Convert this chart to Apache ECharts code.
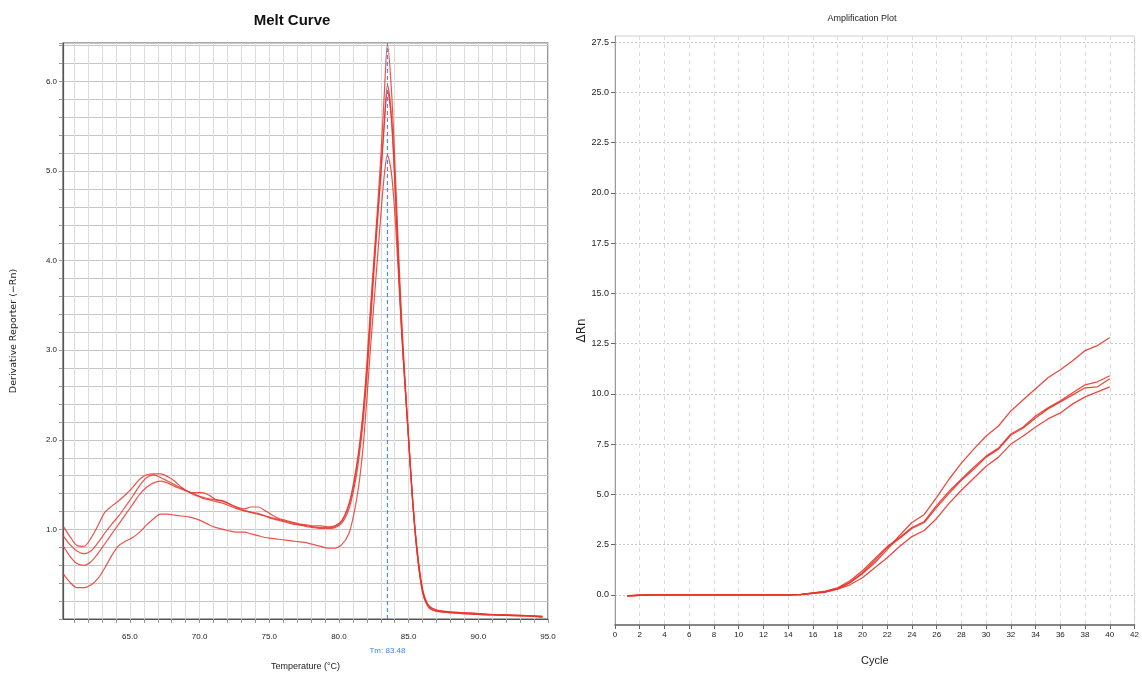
<!DOCTYPE html>
<html><head><meta charset="utf-8">
<script src="https://cdn.jsdelivr.net/npm/echarts@6/dist/echarts.min.js"></script>
<style>html,body{margin:0;padding:0;background:#fff}#c{width:1142px;height:679px}</style>
</head><body><div id="c"></div>
<script>
// ---------- Melt curve data ----------
const meltTemps = [
  60.2, 60.7, 61.2, 61.7, 62.2, 62.7, 63.2, 63.7, 64.2, 64.7,
  65.2, 65.7, 66.2, 66.7, 67.2, 67.7, 68.2, 68.7, 69.2, 69.7,
  70.2, 70.7, 71.2, 71.7, 72.2, 72.7, 73.2, 73.7, 74.2, 74.7,
  75.2, 75.7, 76.2, 76.7, 77.2, 77.7, 78.2, 78.7, 79.2, 79.7,
  80.2, 80.7, 81.0, 81.25, 81.5, 81.75, 82.0, 82.25, 82.5, 82.75,
  83.0, 83.25, 83.48, 83.75, 84.0, 84.25, 84.5, 84.75, 85.0, 85.25,
  85.5, 85.75, 86.0, 86.25, 86.5, 87.0, 88.0, 89.0, 90.0, 91.0,
  92.0, 93.0, 94.0, 94.6
];
const meltA = [
  1.04, 0.92, 0.82, 0.81, 0.90, 1.04, 1.19, 1.26, 1.32, 1.39,
  1.47, 1.56, 1.61, 1.62, 1.62, 1.59, 1.54, 1.47, 1.42, 1.41,
  1.41, 1.38, 1.33, 1.31, 1.28, 1.25, 1.23, 1.25, 1.25, 1.21,
  1.16, 1.12, 1.10, 1.08, 1.06, 1.05, 1.04, 1.04, 1.03, 1.04,
  1.10, 1.28, 1.48, 1.70, 1.98, 2.35, 2.85, 3.45, 4.00, 4.55,
  5.15, 5.85, 6.41, 5.95, 5.15, 4.20, 3.35, 2.65, 2.02, 1.42,
  0.92, 0.55, 0.30, 0.18, 0.12, 0.09, 0.07, 0.06, 0.05, 0.045,
  0.04, 0.035, 0.03, 0.02
];
const meltB = [
  0.93, 0.83, 0.76, 0.73, 0.76, 0.85, 0.96, 1.06, 1.15, 1.26,
  1.37, 1.49, 1.58, 1.61, 1.58, 1.54, 1.50, 1.46, 1.42, 1.38,
  1.36, 1.34, 1.33, 1.32, 1.28, 1.24, 1.21, 1.19, 1.17, 1.15,
  1.13, 1.11, 1.09, 1.07, 1.05, 1.03, 1.02, 1.01, 1.01, 1.02,
  1.07, 1.22, 1.40, 1.60, 1.88, 2.22, 2.70, 3.25, 3.85, 4.40,
  4.95, 5.55, 5.96, 5.65, 4.95, 4.05, 3.25, 2.60, 2.00, 1.40,
  0.92, 0.56, 0.32, 0.20, 0.14, 0.10, 0.08, 0.07, 0.06, 0.05,
  0.045, 0.04, 0.035, 0.03
];
const meltC = [
  0.82, 0.70, 0.62, 0.60, 0.64, 0.73, 0.84, 0.95, 1.06, 1.17,
  1.28, 1.39, 1.47, 1.52, 1.54, 1.52, 1.48, 1.45, 1.42, 1.39,
  1.35, 1.33, 1.31, 1.29, 1.26, 1.23, 1.21, 1.19, 1.18, 1.15,
  1.12, 1.10, 1.08, 1.06, 1.05, 1.04, 1.03, 1.02, 1.02, 1.03,
  1.09, 1.26, 1.45, 1.66, 1.94, 2.30, 2.78, 3.35, 3.92, 4.45,
  4.95, 5.50, 5.90, 5.60, 4.90, 4.00, 3.20, 2.58, 1.98, 1.38,
  0.90, 0.55, 0.30, 0.18, 0.12, 0.085, 0.07, 0.06, 0.05, 0.045,
  0.04, 0.035, 0.03, 0.02
];
const meltD = [
  0.51, 0.41, 0.35, 0.35, 0.38, 0.45, 0.57, 0.71, 0.82, 0.87,
  0.91, 0.97, 1.05, 1.12, 1.17, 1.17, 1.16, 1.15, 1.14, 1.12,
  1.09, 1.05, 1.02, 1.00, 0.98, 0.97, 0.97, 0.95, 0.93, 0.91,
  0.90, 0.89, 0.88, 0.87, 0.86, 0.85, 0.83, 0.81, 0.79, 0.79,
  0.83, 0.95, 1.12, 1.32, 1.58, 1.95, 2.45, 3.00, 3.50, 4.00,
  4.50, 4.95, 5.18, 5.00, 4.55, 3.90, 3.20, 2.58, 2.02, 1.42,
  0.95, 0.60, 0.34, 0.20, 0.14, 0.10, 0.08, 0.07, 0.06, 0.05,
  0.045, 0.04, 0.035, 0.03
];
const tmValue = 83.48;
const meltYMax = 6.43;
const meltXTicks = [61,62,63,64,65,66,67,68,69,70,71,72,73,74,75,76,77,78,79,80,81,82,83,84,85,86,87,88,89,90,91,92,93,94,95];
const meltXLabels = [65, 70, 75, 80, 85, 90, 95];

// ---------- Amplification data ----------
const cycles = [1,2,3,4,5,6,7,8,9,10,11,12,13,14,15,16,17,18,19,20,21,22,23,24,25,26,27,28,29,30,31,32,33,34,35,36,37,38,39,40];
const ampTop = [
  -0.05, -0.02, 0, 0, 0, 0, 0, 0, 0, 0,
  0, 0, 0, 0, 0.01, 0.08, 0.15, 0.30, 0.60, 1.05,
  1.60, 2.25, 2.95, 3.60, 4.00, 4.85, 5.75, 6.55, 7.25, 7.90,
  8.40, 9.15, 9.70, 10.25, 10.80, 11.20, 11.65, 12.15, 12.40, 12.80
];
const ampMid1 = [
  -0.05, -0.02, 0, 0, 0, 0, 0, 0, 0, 0,
  0, 0, 0, 0, 0.02, 0.10, 0.18, 0.35, 0.70, 1.20,
  1.80, 2.40, 2.85, 3.35, 3.65, 4.45, 5.15, 5.75, 6.35, 6.90,
  7.30, 8.00, 8.35, 8.90, 9.30, 9.65, 10.05, 10.45, 10.60, 10.90
];
const ampMid2 = [
  -0.06, -0.02, 0, 0, 0, 0, 0, 0, 0, 0,
  0, 0, 0, 0, 0.01, 0.09, 0.16, 0.32, 0.62, 1.10,
  1.70, 2.35, 2.80, 3.30, 3.60, 4.35, 5.05, 5.70, 6.25, 6.85,
  7.25, 7.95, 8.30, 8.80, 9.25, 9.60, 9.95, 10.30, 10.35, 10.75
];
const ampLow = [
  -0.04, -0.02, 0, 0, 0, 0, 0, 0, 0, 0,
  0, 0, 0, 0, 0.01, 0.07, 0.13, 0.28, 0.50, 0.85,
  1.35, 1.85, 2.40, 2.90, 3.20, 3.80, 4.55, 5.20, 5.80, 6.40,
  6.85, 7.50, 7.90, 8.35, 8.75, 9.05, 9.50, 9.85, 10.10, 10.35
];
const ampYTicks = [0, 2.5, 5, 7.5, 10, 12.5, 15, 17.5, 20, 22.5, 25, 27.5];

// ---------- Chart ----------
const SANS = "'Liberation Sans',Arial,sans-serif";
const RED = '#e8352b';
const BLUE = '#4a8cff';
const chart = echarts.init(document.getElementById('c'), null, {renderer: 'canvas'});

const meltSeries = [meltA, meltB, meltC, meltD].map(vals => ({
  type: 'line', xAxisIndex: 0, yAxisIndex: 0,
  data: meltTemps.map((t, j) => [t, vals[j]]),
  showSymbol: false, symbol: 'none', smooth: 0.3,
  lineStyle: {color: RED, width: 1.2, opacity: 0.85},
  z: 3
}));

// Tm marker: dashed vertical line drawn through the axes, plus its label
const tmSeries = {
  type: 'line', xAxisIndex: 0, yAxisIndex: 0,
  data: [[tmValue, 0], [tmValue, meltYMax]],
  showSymbol: false, symbol: 'none', silent: true,
  lineStyle: {color: BLUE, type: [4, 3], width: 1.2},
  itemStyle: {color: BLUE},
  z: 4,
  markLine: {
    silent: true, symbol: ['none', 'none'], animation: false,
    lineStyle: {color: 'rgba(255,255,255,0)', width: 0.1},
    label: {show: true, position: 'start', formatter: 'Tm: ' + tmValue.toFixed(2),
            color: '#3d85f5', fontSize: 8, fontFamily: SANS, distance: 28},
    data: [{xAxis: tmValue}]
  }
};

const ampSeries = [ampTop, ampMid1, ampMid2, ampLow].map(vals => ({
  type: 'line', xAxisIndex: 1, yAxisIndex: 1,
  data: cycles.map((c, j) => [c, vals[j]]),
  showSymbol: false, symbol: 'none',
  lineStyle: {color: RED, width: 1.3, opacity: 0.9},
  z: 3
}));

chart.setOption({
  animation: false,
  backgroundColor: '#fff',
  title: [
    {text: 'Melt Curve', left: 287, top: 8, textAlign: 'center',
     textStyle: {fontSize: 15, fontWeight: 'bold', color: '#111', fontFamily: SANS}},
    {text: 'Amplification Plot', left: 857, top: 9, textAlign: 'center',
     textStyle: {fontSize: 9, fontWeight: 'normal', color: '#222', fontFamily: SANS}}
  ],
  grid: [
    {left: 63, top: 43, width: 485, height: 576, show: true, borderColor: '#555', borderWidth: 1.2, backgroundColor: 'transparent'},
    {left: 615, top: 36, width: 521, height: 589, show: true, borderColor: '#cfcfcf', borderWidth: 1, backgroundColor: 'transparent'}
  ],
  xAxis: [
    {type: 'value', gridIndex: 0, min: 60.2, max: 95,
     name: 'Temperature (°C)', nameLocation: 'middle', nameGap: 43,
     nameTextStyle: {fontSize: 9, color: '#222', fontFamily: SANS},
     axisLine: {show: true, onZero: false, lineStyle: {color: '#555', width: 1.2}},
     axisTick: {show: true, customValues: meltXTicks, length: 4, lineStyle: {color: '#999'}},
     axisLabel: {customValues: meltXLabels, formatter: v => v.toFixed(1), fontSize: 8, color: '#222', margin: 14, fontFamily: SANS},
     splitLine: {show: true, lineStyle: {color: '#dcdcdc', width: 1}}},
    {type: 'value', gridIndex: 1, min: 0, max: 42, interval: 2,
     name: 'Cycle', nameLocation: 'middle', nameGap: 30,
     nameTextStyle: {fontSize: 11, color: '#222', fontFamily: SANS},
     axisLine: {show: true, onZero: false, lineStyle: {color: '#666', width: 1.5}},
     axisTick: {show: true, length: 4, lineStyle: {color: '#666'}},
     axisLabel: {fontSize: 8, color: '#222', margin: 6, fontFamily: SANS},
     splitLine: {show: true, lineStyle: {color: '#dddddd', type: [4, 4], width: 1}}}
  ],
  yAxis: [
    {type: 'value', gridIndex: 0, min: 0, max: meltYMax, interval: 0.2,
     name: 'Derivative Reporter (−Rn)', nameLocation: 'middle', nameGap: 44, nameRotate: 90,
     nameTextStyle: {fontSize: 9.5, color: '#222', fontFamily: "'DejaVu Sans',sans-serif"},
     axisLine: {show: true, lineStyle: {color: '#555', width: 1.2}},
     axisTick: {show: true, length: 4, lineStyle: {color: '#999'}},
     axisLabel: {fontSize: 8, color: '#222', margin: 6, fontFamily: SANS,
                 formatter: v => (Math.abs(v - Math.round(v)) < 1e-6 && v > 0.5 && v < 6.2) ? v.toFixed(1) : ''},
     splitLine: {show: true, lineStyle: {color: '#c6c6c6', width: 1}}},
    {type: 'value', gridIndex: 1, min: -1.5, max: 27.8,
     name: 'ΔRn', nameLocation: 'middle', nameGap: 19, nameRotate: 90,
     nameTextStyle: {fontSize: 12, color: '#222', fontFamily: "'DejaVu Sans',sans-serif"},
     axisLine: {show: true, lineStyle: {color: '#999', width: 1}},
     axisTick: {show: true, customValues: ampYTicks, length: 4, lineStyle: {color: '#666'}},
     axisLabel: {customValues: ampYTicks, formatter: v => v.toFixed(1), fontSize: 9, color: '#222', margin: 6, fontFamily: SANS},
     splitLine: {show: true, lineStyle: {color: '#c8c8c8', type: [2, 2], width: 1}}}
  ],
  series: meltSeries.concat([tmSeries], ampSeries)
});
</script>
</body></html>
